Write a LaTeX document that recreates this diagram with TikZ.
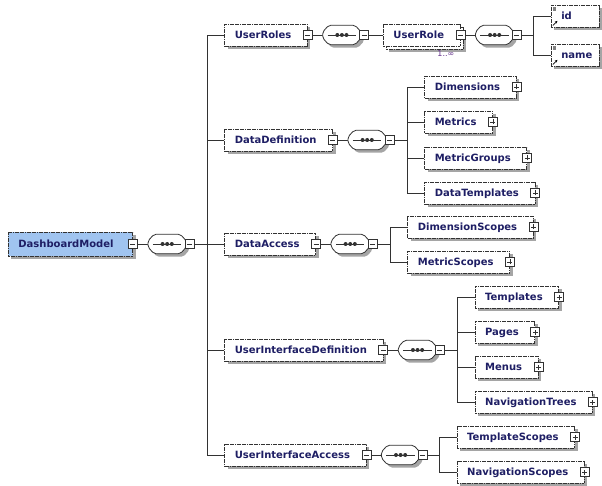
\documentclass[tikz,border=0pt]{standalone}
\usepackage{fontspec}
\setmainfont{DejaVu Sans}
\usetikzlibrary{shadows,arrows.meta}
\definecolor{txt}{RGB}{30,30,100}
\definecolor{rootfill}{RGB}{160,196,240}
\definecolor{bord}{RGB}{50,50,50}
\definecolor{shad}{RGB}{165,165,165}
\definecolor{occcol}{RGB}{100,50,140}
\newcommand\tx[1]{\hspace*{10pt}#1\hspace*{16pt}}
\newcommand\seqpathcmd[4]{\path[#4] ([xshift=#2+6pt,yshift=#3]#1.north west) -- ([xshift=#2-6pt,yshift=#3]#1.north east) -- ([xshift=#2,yshift=#3+3pt]#1.east) -- ([xshift=#2,yshift=#3-3pt]#1.east) -- ([xshift=#2-6pt,yshift=#3]#1.south east) -- ([xshift=#2+6pt,yshift=#3]#1.south west) -- ([xshift=#2,yshift=#3-3pt]#1.west) -- ([xshift=#2,yshift=#3+3pt]#1.west) -- cycle;}
\newcommand\seqdraw[1]{%
  \seqpathcmd{#1}{3pt}{-3pt}{fill=shad, rounded corners=2pt}
  \seqpathcmd{#1}{0pt}{0pt}{draw=bord, line width=0.8pt, fill=white, rounded corners=2pt}
  \draw[bord, line width=0.9pt] ([xshift=5pt]#1.west) -- ([xshift=-5pt]#1.east);
  \fill[bord] ([xshift=-4.6pt]#1.center) circle (2pt);
  \fill[bord] (#1.center) circle (2pt);
  \fill[bord] ([xshift=4.6pt]#1.center) circle (2pt);
}
\tikzset{
  elem/.style={draw=bord, dash pattern=on 1.8pt off 0.6pt, line width=0.8pt, fill=white,
    anchor=west, minimum height=22pt, inner xsep=0pt, inner ysep=0pt,
    text height=7.3pt, text depth=0pt, font=\bfseries\fontsize{10}{12}\selectfont, text=txt,
    drop shadow={shadow xshift=3pt, shadow yshift=-3pt, fill=shad, opacity=1}},
  multi/.style={drop shadow={shadow xshift=6pt, shadow yshift=-6pt, fill=shad, opacity=1},
    copy shadow={shadow xshift=3pt, shadow yshift=-3pt, draw=bord, fill=white, line width=0.8pt}},
  mbox/.style={draw=bord, line width=0.7pt, fill=white, minimum width=9pt, minimum height=9pt, inner sep=0pt,
    path picture={\draw[line width=0.8pt, bord] ([xshift=-2.5pt]path picture bounding box.center) -- ([xshift=2.5pt]path picture bounding box.center);}},
  pbox/.style={draw=bord, line width=0.7pt, fill=white, minimum width=9pt, minimum height=9pt, inner sep=0pt,
    path picture={\draw[line width=0.8pt, bord] ([xshift=-2.5pt]path picture bounding box.center) -- ([xshift=2.5pt]path picture bounding box.center);
      \draw[line width=0.8pt, bord] ([yshift=-2.5pt]path picture bounding box.center) -- ([yshift=2.5pt]path picture bounding box.center);}},
  seqn/.style={anchor=west, minimum width=38pt, minimum height=19pt, inner sep=0pt},
  conn/.style={draw=bord, line width=0.8pt},
  occtext/.style={font=\fontsize{8}{9}\selectfont, text=occcol, inner sep=0pt}
}
\newcommand\leaf[5]{%
  \node[elem] (#1) at (#2 |- 0,#4) {\tx{#5}};
  \draw[conn] (#3) |- (#1.west);
  \node[pbox] (#1p) at (#1.east) {};
}
\newcommand\chain[3]{% element name, seq name, branch gap
  \node[mbox] (#1m) at (#1.east) {};
  \node[seqn] (#2) at ([xshift=15pt]#1.east) {};
  \draw[conn] (#1m.east) -- (#2.west);
  \seqdraw{#2}
  \node[mbox] (#2m) at ([xshift=3pt]#2.east) {};
  \coordinate (#2b) at ([xshift=#3]#2m.center);
  \coordinate (#2c) at ([xshift=17pt]#2b);
  \draw[conn] (#2m.east) -- (#2b);
}
\begin{document}
\begin{tikzpicture}[x=1pt,y=-1pt]
\useasboundingbox[fill=white] (0,0) rectangle (602,486);

% root
\node[elem, fill=rootfill, minimum height=24pt] (root) at (8,244) {\tx{DashboardModel}\hspace*{3pt}};
\chain{root}{s0}{18pt}

% UserRoles
\node[elem] (userroles) at (s0c |- 0,35) {\tx{UserRoles}};
\draw[conn] (s0b) |- (userroles.west);
\node[mbox] (userrolesm) at (userroles.east) {};
\node[seqn] (s1) at ([xshift=15pt]userroles.east) {};
\draw[conn] (userrolesm.east) -- (s1.west);
\seqdraw{s1}
\node[mbox] (s1m) at ([xshift=3pt]s1.east) {};
\node[elem, multi] (userrole) at ([xshift=19pt]s1m.center) {\tx{UserRole}};
\draw[conn] (s1m.east) -- (userrole.west);
\node[occtext, anchor=north east] (occ) at ([xshift=-6pt,yshift=-4pt]userrole.south east) {1..∞};
\chain{userrole}{s2}{17pt}
\node[elem] (id) at (s2c |- 0,16) {\hspace*{10pt}\makebox[38pt][l]{id}};
\node[elem] (name) at (s2c |- 0,55) {\hspace*{10pt}\makebox[38pt][l]{name}};
\draw[conn] (s2b) |- (id.west);
\draw[conn] (s2b) |- (name.west);
\fill[gray] ([xshift=2pt,yshift=-2pt]id.north west) rectangle ++(3pt,-4pt);
\fill[gray] ([xshift=2pt,yshift=-2pt]name.north west) rectangle ++(3pt,-4pt);
\draw[-{Stealth[length=2.5pt,width=2.5pt]}, line width=0.7pt] ([xshift=2pt,yshift=2pt]id.south west) -- ++(4.5pt,4.5pt);
\draw[-{Stealth[length=2.5pt,width=2.5pt]}, line width=0.7pt] ([xshift=2pt,yshift=2pt]name.south west) -- ++(4.5pt,4.5pt);

% DataDefinition
\node[elem] (datadef) at (s0c |- 0,140) {\tx{DataDefinition}};
\draw[conn] (s0b) |- (datadef.west);
\chain{datadef}{s3}{18pt}
\leaf{dims}{s3c}{s3b}{87}{Dimensions}
\leaf{metrics}{s3c}{s3b}{122}{Metrics}
\leaf{mgroups}{s3c}{s3b}{158}{MetricGroups}
\leaf{dtempl}{s3c}{s3b}{193}{DataTemplates}

% DataAccess
\node[elem] (dataacc) at (s0c |- 0,244) {\tx{DataAccess}};
\draw[conn] (s0b) |- (dataacc.west);
\chain{dataacc}{s4}{18pt}
\leaf{dimscopes}{s4c}{s4b}{227}{DimensionScopes}
\leaf{metscopes}{s4c}{s4b}{262}{MetricScopes}

% UserInterfaceDefinition
\node[elem] (uidef) at (s0c |- 0,350) {\tx{UserInterfaceDefinition}};
\draw[conn] (s0b) |- (uidef.west);
\chain{uidef}{s5}{18pt}
\leaf{templates}{s5c}{s5b}{297}{Templates}
\leaf{pages}{s5c}{s5b}{332}{Pages}
\leaf{menus}{s5c}{s5b}{367}{Menus}
\leaf{navtrees}{s5c}{s5b}{402}{NavigationTrees}

% UserInterfaceAccess
\node[elem] (uiacc) at (s0c |- 0,455) {\tx{UserInterfaceAccess}};
\draw[conn] (s0b) |- (uiacc.west);
\chain{uiacc}{s6}{17pt}
\leaf{tscopes}{s6c}{s6b}{437}{TemplateScopes}
\leaf{nscopes}{s6c}{s6b}{472}{NavigationScopes}
\end{tikzpicture}
\end{document}
